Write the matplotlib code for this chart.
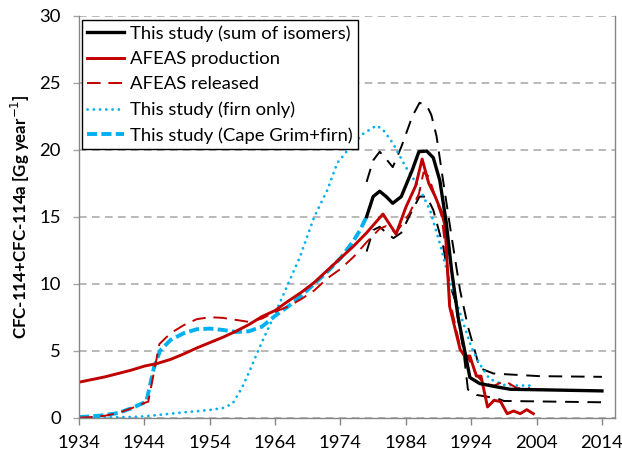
import matplotlib
matplotlib.use("Agg")
import matplotlib.pyplot as plt
from matplotlib.lines import Line2D

plt.rcParams['font.family'] = ['Lato', 'DejaVu Sans']

# ---- data ----
prod_years = [1934, 1936, 1938, 1940, 1942, 1944, 1946, 1948, 1950, 1952, 1954, 1956,
              1958, 1960, 1962, 1964, 1966, 1968, 1970, 1972, 1974, 1976, 1978,
              1980.5, 1982.5, 1984, 1985.5, 1986.5, 1987.5, 1988.5, 1989.5, 1990.0,
              1990.7, 1992.3, 1993.0, 1993.8, 1994.8, 1995.5, 1996.5, 1997.5, 1998.5,
              1999.5, 2000.5, 2001.5, 2002.5, 2003.5]
prod_vals = [2.65, 2.85, 3.05, 3.3, 3.55, 3.85, 4.05, 4.35, 4.75, 5.2, 5.6, 6.0,
             6.45, 6.95, 7.55, 8.0, 8.7, 9.35, 10.1, 11.0, 11.9, 12.8, 13.8,
             15.2, 13.7, 15.7, 17.3, 19.3, 17.5, 16.5, 15.3, 14.3,
             8.3, 5.1, 4.6, 4.6, 3.1, 3.1, 0.8, 1.3, 1.2,
             0.3, 0.5, 0.3, 0.6, 0.3]

rel_years = [1934, 1936, 1938, 1940, 1942, 1944, 1944.6, 1946.3, 1948, 1950, 1952, 1954,
             1956, 1958, 1960, 1962, 1964, 1966, 1968, 1970, 1972, 1974, 1976, 1978,
             1980, 1981, 1982.5, 1984.5, 1986, 1986.7, 1987.5, 1988.5, 1989.5, 1990.2,
             1990.7, 1992.3, 1993.5, 1994.8, 1995.5, 1996.5, 1997.5, 1998.5, 1999.3,
             2000, 2001, 2002, 2003]
rel_vals = [0.0, 0.05, 0.15, 0.35, 0.7, 1.1, 1.2, 5.5, 6.3, 6.9, 7.35, 7.5,
            7.45, 7.3, 7.15, 7.4, 7.9, 8.3, 8.85, 9.5, 10.4, 11.1, 12.0, 13.1,
            14.1, 14.3, 13.8, 15.2, 16.7, 18.3, 18.0, 16.5, 15.0, 12.0,
            8.8, 5.3, 4.5, 3.2, 2.8, 2.5, 2.4, 2.6, 2.7,
            2.5, 2.2, 2.2, 2.2]

cg_years = [1934, 1936, 1938, 1940, 1942, 1944.3, 1945.5, 1946.4, 1948, 1950, 1952, 1954,
            1956, 1958, 1960, 1962, 1964, 1966, 1968, 1970, 1972, 1974, 1976, 1977, 1978]
cg_vals = [0.05, 0.1, 0.2, 0.35, 0.7, 1.2, 3.8, 5.0, 5.8, 6.3, 6.6, 6.65,
           6.55, 6.4, 6.45, 6.8, 7.6, 8.3, 9.1, 10.0, 10.9, 11.9, 13.2, 14.0, 15.0]

firn_years = [1936, 1938, 1942, 1944, 1946, 1948, 1950, 1952, 1954, 1956, 1957.5, 1959,
              1960.2, 1961.4, 1962.7, 1964.2, 1966, 1967.8, 1970, 1972, 1973.5, 1975.5,
              1977.5, 1979.5, 1980.5, 1982, 1984, 1986, 1987.7, 1989.2, 1990.7, 1992.5,
              1994, 1995.3, 1996.8, 1999, 2001, 2003]
firn_vals = [0.0, 0.02, 0.05, 0.1, 0.2, 0.3, 0.4, 0.48, 0.58, 0.72, 1.05, 2.3,
             3.6, 5.0, 6.4, 8.0, 10.0, 12.0, 15.0, 17.0, 19.0, 20.2,
             21.2, 21.8, 21.5, 20.5, 18.7, 17.2, 15.5, 13.0, 10.2, 7.5,
             5.3, 4.0, 2.9, 2.45, 2.4, 2.4]

sum_years = [1978, 1979, 1980, 1981, 1982, 1983.3, 1985, 1986, 1987.2, 1988.2, 1989.2,
             1990.2, 1991, 1992, 1993, 1993.8, 1995.3, 1997.9, 2000, 2005, 2014]
sum_vals = [15.0, 16.5, 16.9, 16.5, 16.0, 16.5, 18.5, 19.85, 19.9, 19.4, 17.7,
            14.5, 11.0, 7.5, 5.0, 3.0, 2.55, 2.3, 2.12, 2.08, 2.0]

up_years = [1978, 1979, 1980, 1981, 1982, 1983.3, 1985, 1986.1, 1987.2, 1987.9, 1988.7,
            1989.7, 1991, 1992.3, 1993.5, 1995.3, 1997.4, 1999, 2004.5, 2014]
up_vals = [17.6, 19.2, 19.85, 19.3, 18.7, 20.2, 22.5, 23.5, 23.3, 22.6, 21.0,
           17.7, 13.5, 9.5, 6.8, 3.7, 3.3, 3.25, 3.1, 3.05]

lo_years = [1978, 1979, 1980, 1981, 1982.1, 1983.3, 1985, 1986.1, 1987.2, 1988.2, 1989.7,
            1990.7, 1991.5, 1992.8, 1993.5, 1994.8, 1997.9, 1999, 2014]
lo_vals = [12.4, 14.0, 14.25, 13.8, 13.4, 13.8, 15.5, 16.5, 16.5, 15.5, 12.8,
           10.0, 8.8, 5.05, 2.1, 1.7, 1.45, 1.25, 1.15]

x_ticks = [1934, 1944, 1954, 1964, 1974, 1984, 1994, 2004, 2014]
y_ticks = [0, 5, 10, 15, 20, 25, 30]

RED = '#C00000'
BLUE = '#00B0F0'
GRID = '#A6A6A6'
SPINE = '#868686'

DOT = (0, (0.05, 2.2))
CGDASH = (0, (2.6, 1.1))
RDASH = (0, (7, 4))
KDASH = (0, (7, 4.5))

fig = plt.figure(figsize=(6.22, 4.51), dpi=100)
ax = fig.add_axes([79 / 622, (451 - 417.7) / 451, 536 / 622, 402 / 451])

ax.set_xlim(1934, 2016)
ax.set_ylim(0, 30)
ax.set_xticks(x_ticks)
ax.set_yticks(y_ticks)
ax.yaxis.grid(True, color=GRID, linestyle=(0, (5, 3.5)), linewidth=1.1)
ax.set_axisbelow(True)
for s in ['left', 'bottom', 'right']:
    ax.spines[s].set_color(SPINE)
    ax.spines[s].set_linewidth(1.0)
ax.spines['top'].set_visible(False)
ax.tick_params(axis='x', direction='out', length=5, width=1, color=SPINE, pad=7.5,
               labelsize=13.3, labelcolor='black')
ax.tick_params(axis='y', direction='out', length=4.5, width=1, color=GRID, pad=8.5,
               labelsize=13.3, labelcolor='black')

ax.plot(up_years, up_vals, color='black', lw=1.4, linestyle=KDASH)
ax.plot(lo_years, lo_vals, color='black', lw=1.4, linestyle=KDASH)
ax.plot(firn_years, firn_vals, color=BLUE, lw=2.0, linestyle=DOT,
        dash_capstyle='round')
ax.plot(cg_years, cg_vals, color=BLUE, lw=2.8, linestyle=CGDASH)
ax.plot(rel_years, rel_vals, color=RED, lw=1.4, linestyle=RDASH)
ax.plot(prod_years, prod_vals, color=RED, lw=2.1)
ax.plot(sum_years, sum_vals, color='black', lw=2.4)

handles = [
    Line2D([], [], color='black', lw=2.4),
    Line2D([], [], color=RED, lw=2.1),
    Line2D([], [], color=RED, lw=1.4, linestyle=RDASH),
    Line2D([], [], color=BLUE, lw=2.0, linestyle=DOT, dash_capstyle='round'),
    Line2D([], [], color=BLUE, lw=2.8, linestyle=CGDASH),
]
labels = ['This study (sum of isomers)', 'AFEAS production', 'AFEAS released',
          'This study (firn only)', 'This study (Cape Grim+firn)']
leg = ax.legend(handles, labels, loc='upper left', bbox_to_anchor=(0.005, 0.99),
                borderaxespad=0, fontsize=13.3, frameon=True, fancybox=False,
                handlelength=2.0, handletextpad=0.3, labelspacing=0.5,
                borderpad=0.3)
leg.get_frame().set_edgecolor('black')
leg.get_frame().set_linewidth(1.0)
leg.get_frame().set_alpha(1)

ax.set_ylabel('CFC-114+CFC-114a [Gg year$^{-1}$]', fontsize=12.2, fontweight='bold',
              labelpad=5)

fig.savefig('out.png', dpi=100)
